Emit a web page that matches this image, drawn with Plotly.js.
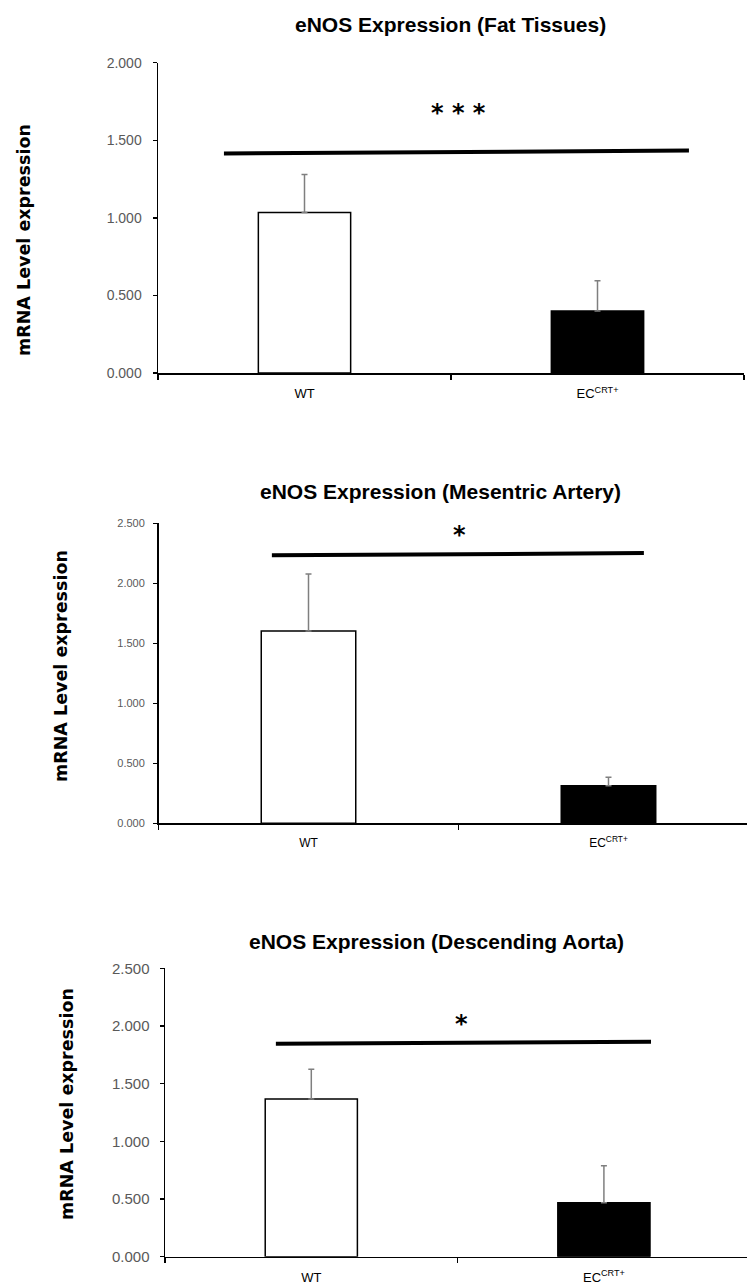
<!DOCTYPE html>
<html>
<head>
<meta charset="utf-8">
<script src="https://cdn.plot.ly/plotly-3.0.1.min.js"></script>
<style>
html,body{margin:0;padding:0;background:#fff;overflow:hidden;}
#chart{width:747px;height:1285px;}
</style>
</head>
<body>
<div id="chart"></div>
<script>
// ---- data ----
const groups = ["WT", "EC<sup>CRT+</sup>"];
const groupPos = [0, 1];
const panelTitles = [
  "eNOS Expression (Fat Tissues)",
  "eNOS Expression (Mesentric Artery)",
  "eNOS Expression (Descending Aorta)"
];
const yTitle = "mRNA Level expression";

const fatMean = [1.034, 0.400];
const fatErr = [0.245, 0.194];
const mesMean = [1.602, 0.313];
const mesErr = [0.475, 0.070];
const aorMean = [1.366, 0.468];
const aorErr = [0.258, 0.321];

const fatSigX = [-0.275, 1.312];
const fatSigY = [1.415, 1.434];
const mesSigX = [-0.122, 1.118];
const mesSigY = [2.233, 2.252];
const aorSigX = [-0.121, 1.161];
const aorSigY = [1.846, 1.863];

const sigLabels = ["* * *", "*", "*"];
const sigLabelX = [0.524, 0.503, 0.512];
const sigLabelY = [1.716, 2.453, 2.067];

const yRanges = [[0, 2], [0, 2.5], [0, 2.5]];
const yTickVals = [[0, 0.5, 1, 1.5, 2], [0, 0.5, 1, 1.5, 2, 2.5], [0, 0.5, 1, 1.5, 2, 2.5]];
const yTickText = [
  ["0.000", "0.500", "1.000", "1.500", "2.000"],
  ["0.000", "0.500", "1.000", "1.500", "2.000", "2.500"],
  ["0.000", "0.500", "1.000", "1.500", "2.000", "2.500"]
];
const boundaries = [-0.5, 0.5, 1.5];

// ---- layout geometry (pixels) ----
const W = 747, H = 1285;
const panels = [
  {x0: 158, x1: 744, yTop: 62.7, yBot: 373, xMax: 1.5, tickFont: 14, catFont: 13, tTitleY: 24, tTitleX: 450, yTitleX: 24, yTitleY: 240, standoff: 8},
  {x0: 158.5, x1: 747, yTop: 523.3, yBot: 823.3, xMax: 1.4617, tickFont: 11, catFont: 12, tTitleY: 492, tTitleX: 440, yTitleX: 61, yTitleY: 666, standoff: 6},
  {x0: 165, x1: 747, yTop: 968.3, yBot: 1256.7, xMax: 1.489, tickFont: 15, catFont: 13, tTitleY: 942, tTitleX: 437, yTitleX: 67, yTitleY: 1104, standoff: 7}
];
const means = [fatMean, mesMean, aorMean];
const errs = [fatErr, mesErr, aorErr];
const sigX = [fatSigX, mesSigX, aorSigX];
const sigY = [fatSigY, mesSigY, aorSigY];

const traces = [];
const layout = {
  width: W, height: H,
  margin: {l: 0, r: 0, t: 0, b: 0},
  paper_bgcolor: "#fff", plot_bgcolor: "rgba(0,0,0,0)",
  showlegend: false,
  annotations: []
};

panels.forEach((p, i) => {
  const sfx = i === 0 ? "" : String(i + 1);
  const xa = "x" + sfx, ya = "y" + sfx;
  traces.push({
    type: "bar", x: groupPos, y: means[i], xaxis: xa, yaxis: ya,
    width: 0.315,
    marker: {color: ["#ffffff", "#000000"], line: {color: "#000", width: 1.5}},
    error_y: {type: "data", symmetric: false, array: errs[i], arrayminus: [0, 0],
              color: "#7f7f7f", thickness: 1.5, width: 3},
    hoverinfo: "skip"
  });
  traces.push({
    type: "scatter", mode: "lines", x: sigX[i], y: sigY[i], xaxis: xa, yaxis: ya,
    line: {color: "#000", width: 4}, hoverinfo: "skip"
  });
  layout["xaxis" + sfx] = {
    domain: [p.x0 / W, p.x1 / W], anchor: ya,
    range: [-0.5, p.xMax], fixedrange: true,
    showline: true, linecolor: "#000", linewidth: 1.5,
    showgrid: false, zeroline: false,
    tickmode: "array", tickvals: groupPos, ticktext: groups, ticks: "",
    tickfont: {family: "Liberation Sans, Arial, sans-serif", size: p.catFont, color: "#000"},
    ticklabelstandoff: 8,
    minor: {tickmode: "array", tickvals: boundaries, ticks: "outside", ticklen: 5,
            tickcolor: "#000", tickwidth: 1.5, showgrid: false},
    automargin: false
  };
  layout["yaxis" + sfx] = {
    domain: [1 - p.yBot / H, 1 - p.yTop / H], anchor: xa,
    range: yRanges[i], fixedrange: true,
    showline: true, linecolor: "#000", linewidth: 1.5,
    showgrid: false, zeroline: false,
    tickmode: "array", tickvals: yTickVals[i], ticktext: yTickText[i],
    ticks: "outside", ticklen: 4, tickcolor: "#000", tickwidth: 1.5,
    tickfont: {family: "Liberation Sans, Arial, sans-serif", size: p.tickFont, color: "#595959"},
    ticklabelstandoff: p.standoff,
    automargin: false
  };
  layout.annotations.push({
    xref: "paper", yref: "paper", x: p.tTitleX / W, y: 1 - p.tTitleY / H,
    xanchor: "center", yanchor: "middle", showarrow: false,
    text: "<b>" + panelTitles[i] + "</b>",
    font: {family: "Liberation Sans, Arial, sans-serif", size: 21, color: "#000"}
  });
  layout.annotations.push({
    xref: "paper", yref: "paper", x: p.yTitleX / W, y: 1 - p.yTitleY / H,
    xanchor: "center", yanchor: "middle", showarrow: false, textangle: -90,
    text: "<b>" + yTitle + "</b>",
    font: {family: "DejaVu Sans, Verdana, sans-serif", size: 17.5, color: "#000"}
  });
  layout.annotations.push({
    xref: xa, yref: ya, x: sigLabelX[i], y: sigLabelY[i],
    xanchor: "center", yanchor: "middle", showarrow: false,
    text: sigLabels[i], yshift: -6,
    font: {family: "DejaVu Sans, sans-serif", size: 24, color: "#000", weight: 700}
  });
});

Plotly.newPlot("chart", traces, layout, {staticPlot: true, displayModeBar: false});
</script>
</body>
</html>
